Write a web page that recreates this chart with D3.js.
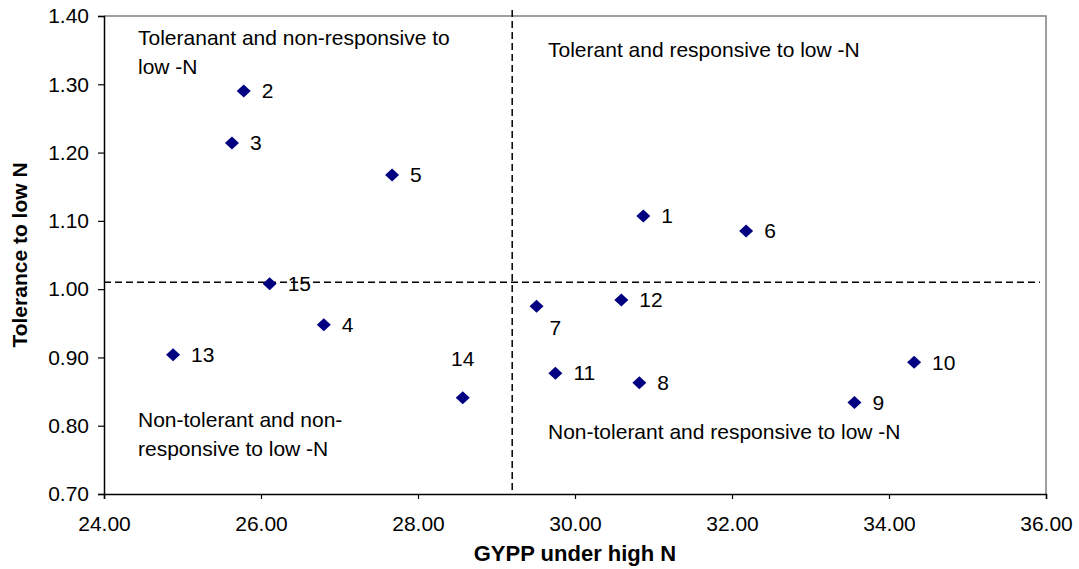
<!DOCTYPE html>
<html>
<head>
<style>
  body { margin: 0; background: #fff; }
  text { font-family: Arial, "Liberation Sans", sans-serif; }
</style>
</head>
<body>

<script src="https://d3js.org/d3.v7.min.js"></script>
<script>

// genotype ids and their values
const genotypes = [1, 2, 3, 4, 5, 6, 7, 8, 9, 10, 11, 12, 13, 14, 15];
const gyppHighN = [30.87, 25.78, 25.63, 26.80, 27.67, 32.18, 29.51, 30.82, 33.56, 34.32, 29.75, 30.59, 24.88, 28.57, 26.11];
const toleranceLowN = [1.107, 1.290, 1.214, 0.948, 1.167, 1.085, 0.975, 0.863, 0.834, 0.893, 0.877, 0.984, 0.904, 0.841, 1.008];

// the two dashed dividing lines
const splitX = [29.20];
const splitY = [1.010];

const xTicks = [24, 26, 28, 30, 32, 34, 36];
const yTicks = [0.70, 0.80, 0.90, 1.00, 1.10, 1.20, 1.30, 1.40];

const width = 1079;
const height = 569;
const margin = {top: 16, right: 33, bottom: 75, left: 104};

const svg = d3.select('body')
              .append('svg')
              .attr('width', width)
              .attr('height', height);

const x = d3.scaleLinear().domain([24, 36]).range([margin.left, width - margin.right]);
const y = d3.scaleLinear().domain([0.70, 1.40]).range([height - margin.bottom, margin.top]);

// top and right frame
svg.append('path')
   .attr('d', `M${x(24)},${y(1.4)}H${x(36)}V${y(0.7)}`)
   .attr('fill', 'none')
   .attr('stroke', '#808080')
   .attr('stroke-width', 1.5);

const xAxis = svg.append('g')
   .attr('transform', `translate(0,${y(0.7)})`)
   .call(d3.axisBottom(x).tickValues(xTicks).tickFormat(d3.format('.2f')).tickSize(5).tickPadding(17));

const yAxis = svg.append('g')
   .attr('transform', `translate(${x(24)},0)`)
   .call(d3.axisLeft(y).tickValues(yTicks).tickFormat(d3.format('.2f')).tickSize(6).tickPadding(9));

[xAxis, yAxis].forEach(g => {
  g.select('.domain').attr('stroke', '#000').attr('stroke-width', 1.5);
  g.selectAll('.tick line').attr('stroke', '#000').attr('stroke-width', 1.2);
  g.selectAll('.tick text')
   .attr('font-family', 'Arial, "Liberation Sans", sans-serif')
   .attr('font-size', 21)
   .attr('fill', '#000');
});

// dashed split lines
svg.selectAll('line.vsplit')
   .data(splitX)
   .enter()
   .append('line')
   .attr('x1', d => x(d)).attr('x2', d => x(d))
   .attr('y1', y(1.4) - 6).attr('y2', y(0.7))
   .attr('stroke', '#000')
   .attr('stroke-width', 1.5)
   .attr('stroke-dasharray', '7,4');

svg.selectAll('line.hsplit')
   .data(splitY)
   .enter()
   .append('line')
   .attr('x1', x(24)).attr('x2', x(36) - 6)
   .attr('y1', d => y(d)).attr('y2', d => y(d))
   .attr('stroke', '#000')
   .attr('stroke-width', 1.5)
   .attr('stroke-dasharray', '7,4');

// quadrant notes
const notes = [
  {lines: ['Toleranant and non-responsive to', 'low -N'], x: 138, y: 45},
  {lines: ['Tolerant and responsive to low -N'], x: 548, y: 57},
  {lines: ['Non-tolerant and non-', 'responsive to low -N'], x: 138, y: 427},
  {lines: ['Non-tolerant and responsive to low -N'], x: 548, y: 439}
];
notes.forEach(n => {
  const t = svg.append('text')
               .attr('x', n.x)
               .attr('y', n.y)
               .attr('font-size', 21)
               .attr('fill', '#000');
  n.lines.forEach((l, i) => {
    t.append('tspan').attr('x', n.x).attr('dy', i === 0 ? 0 : 28.5).text(l);
  });
});

const points = genotypes.map((g, i) => ({id: g, gx: gyppHighN[i], tol: toleranceLowN[i]}));

// where each number label sits relative to its marker
const labelOffset = {7: [13, 21, 'start'], 14: [0, -39, 'middle']};

svg.selectAll('path.pt')
   .data(points)
   .enter()
   .append('path')
   .attr('class', 'pt')
   .attr('d', 'M0,-6.5L7,0L0,6.5L-7,0Z')
   .attr('transform', d => `translate(${x(d.gx)},${y(d.tol)})`)
   .attr('fill', '#000080');

svg.selectAll('text.lbl')
   .data(points)
   .enter()
   .append('text')
   .attr('class', 'lbl')
   .attr('x', d => x(d.gx) + (labelOffset[d.id] ? labelOffset[d.id][0] : 18))
   .attr('y', d => y(d.tol) + (labelOffset[d.id] ? labelOffset[d.id][1] : 0))
   .attr('dy', '0.35em')
   .attr('text-anchor', d => labelOffset[d.id] ? labelOffset[d.id][2] : 'start')
   .attr('font-size', 21)
   .attr('fill', '#000')
   .text(d => d.id);

// axis titles
svg.append('text')
   .attr('x', (x(24) + x(36)) / 2)
   .attr('y', 561)
   .attr('text-anchor', 'middle')
   .attr('font-size', 22)
   .attr('font-weight', 'bold')
   .text('GYPP under high N');

svg.append('text')
   .attr('transform', `translate(27,${(y(0.7) + y(1.4)) / 2}) rotate(-90)`)
   .attr('text-anchor', 'middle')
   .attr('font-size', 21)
   .attr('font-weight', 'bold')
   .text('Tolerance to low N');

</script>
</body>
</html>
